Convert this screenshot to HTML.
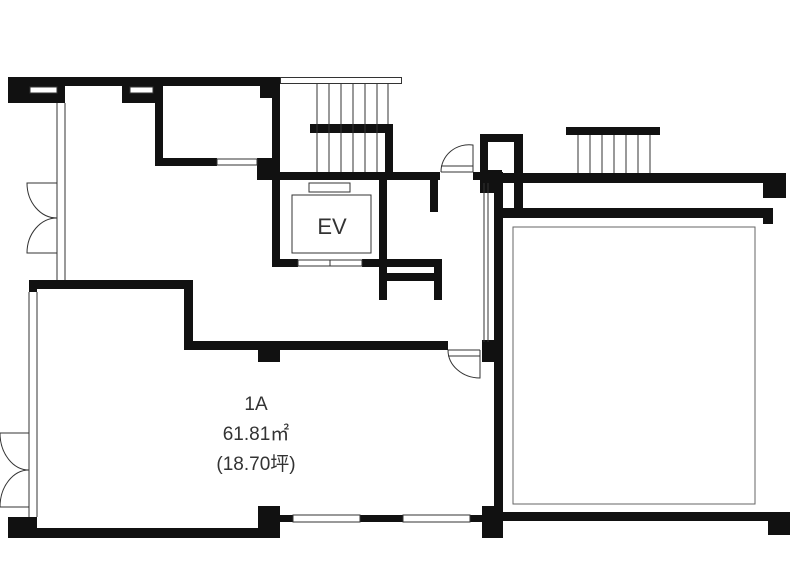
<!DOCTYPE html>
<html><head><meta charset="utf-8"><style>html,body{margin:0;padding:0;background:#fff;}svg{display:block}</style></head>
<body>
<svg width="800" height="584" viewBox="0 0 800 584" xmlns="http://www.w3.org/2000/svg">
<g fill="#111">
<rect x="8" y="77" width="272" height="9"/>
<rect x="8" y="77" width="57" height="26"/>
<rect x="122" y="77" width="33" height="26"/>
<rect x="155" y="86" width="8" height="80"/>
<rect x="155" y="158" width="62" height="8"/>
<rect x="257" y="158" width="23" height="22"/>
<rect x="260" y="77" width="20" height="21"/>
<rect x="272" y="77" width="8" height="190"/>
<rect x="310" y="124" width="83" height="9"/>
<rect x="385" y="124" width="8" height="50"/>
<rect x="259" y="172" width="181" height="8"/>
<rect x="473" y="172" width="30" height="8"/>
<rect x="430" y="180" width="8" height="32"/>
<rect x="272" y="259" width="26" height="8"/>
<rect x="362" y="259" width="80" height="8"/>
<rect x="379" y="180" width="8" height="120"/>
<rect x="379" y="273" width="63" height="8"/>
<rect x="434" y="259" width="8" height="41"/>
<rect x="480" y="134" width="43" height="8"/>
<rect x="480" y="134" width="8" height="50"/>
<rect x="514" y="134" width="9" height="76"/>
<rect x="480" y="170" width="22" height="23"/>
<rect x="500" y="173" width="286" height="10"/>
<rect x="763" y="173" width="23" height="25"/>
<rect x="495" y="208" width="278" height="10"/>
<rect x="763" y="208" width="10" height="16"/>
<rect x="494" y="175" width="9" height="363"/>
<rect x="566" y="127" width="94" height="8"/>
<rect x="494" y="512" width="296" height="9"/>
<rect x="768" y="512" width="22" height="23"/>
<rect x="482" y="506" width="20" height="32"/>
<rect x="482" y="340" width="13" height="22"/>
<rect x="29" y="280" width="164" height="9"/>
<rect x="29" y="280" width="8" height="12"/>
<rect x="184" y="280" width="9" height="70"/>
<rect x="184" y="341" width="264" height="9"/>
<rect x="258" y="341" width="22" height="21"/>
<rect x="8" y="528" width="272" height="10"/>
<rect x="8" y="517" width="29" height="21"/>
<rect x="258" y="506" width="22" height="32"/>
<rect x="280" y="515" width="13" height="7"/>
<rect x="360" y="515" width="43" height="7"/>
<rect x="470" y="515" width="12" height="7"/>
</g>
<g fill="#fff" stroke="none">
<rect x="30" y="87" width="27" height="6"/>
<rect x="130" y="87" width="23" height="6"/>
</g>
<g fill="none" stroke="#333" stroke-width="1">
<rect x="30" y="87" width="27" height="6"/>
<rect x="130" y="87" width="23" height="6"/>
<rect x="217" y="159" width="40" height="6"/>
<rect x="280.5" y="77.5" width="121" height="6"/>
<path d="M317 84V172M329 84V172M341 84V172M353 84V172M365 84V172M377 84V172M388 84V124"/>
<path d="M578 135V173M590 135V173M602 135V173M614 135V173M626 135V173M638 135V173M650 135V173"/>
<rect x="309" y="183" width="41" height="9"/>
<rect x="292" y="195" width="79" height="58"/>
<rect x="298" y="260" width="32" height="6"/><rect x="330" y="260" width="32" height="6"/>
<path d="M473 172V145A28 27 0 0 0 441 172"/>
<path d="M441 172H473M441 166H473"/>
<path d="M57 103V280M65 103V280"/>
<path d="M57 183H27A30 35 0 0 0 57 218A30 35 0 0 0 27 253H57"/>
<path d="M29 292V517M37 292V517"/>
<path d="M29 433H0A29 37 0 0 0 29 470A29 37 0 0 0 0 507H29"/>
<path d="M448 350A32 28 0 0 0 480 378V350"/>
<path d="M448 350H480M448 356H480"/>
<path d="M484 183V342M488 183V342"/>
<rect x="293" y="515" width="67" height="7"/>
<rect x="403" y="515" width="67" height="7"/>
<rect x="513" y="227" width="242" height="277" stroke="#666"/>
</g>
<g font-family="Liberation Sans, Noto Sans CJK JP, sans-serif" fill="#333" text-anchor="middle">
<text x="332" y="234" font-size="22">EV</text>
<text x="256" y="410" font-size="19">1A</text>
<text x="256" y="440" font-size="19">61.81㎡</text>
<text x="256" y="470" font-size="19">(18.70坪)</text>
</g>
</svg>
</body></html>
